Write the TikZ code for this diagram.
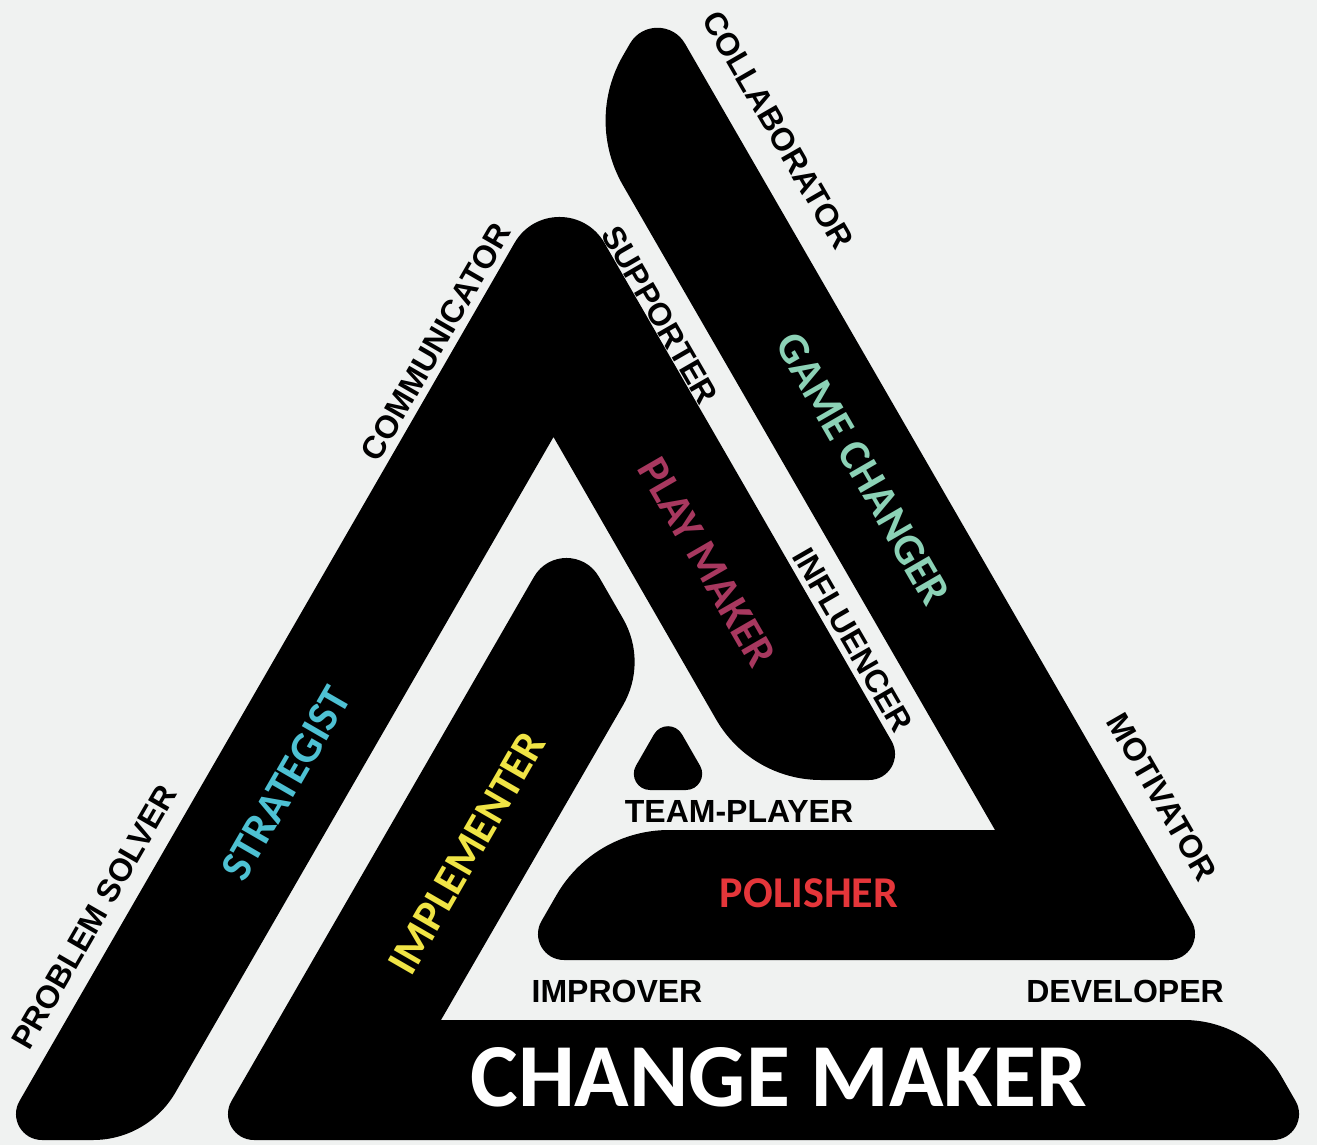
\documentclass[tikz,border=0pt]{standalone}
\usepackage{fontspec}
\newfontfamily\labfont{Liberation Sans}
\newfontfamily\rolefont{Carlito}
\usetikzlibrary{calc}
\definecolor{bg}{RGB}{240,242,241}
\definecolor{cstrat}{RGB}{78,193,211}
\definecolor{cimpl}{RGB}{240,228,69}
\definecolor{cplay}{RGB}{168,56,95}
\definecolor{cgame}{RGB}{140,210,182}
\definecolor{cpol}{RGB}{229,54,58}
% rounded corner at #2 between neighbours #1 and #3, cut #4, control #5
\newcommand\rc[5]{-- ($(#2)!#4pt!(#1)$) .. controls ($(#2)!#5pt!(#1)$) and ($(#2)!#5pt!(#3)$) .. ($(#2)!#4pt!(#3)$)}
\begin{document}
\begin{tikzpicture}[x=1pt,y=-1pt,
  lab/.style={font=\labfont\bfseries\fontsize{32}{38}\selectfont, inner sep=0pt, text=black},
  role/.style={font=\rolefont\bfseries\fontsize{44}{50}\selectfont, inner sep=0pt}]
\useasboundingbox (0,0) rectangle (1317,1145);
\fill[bg] (0,0) rectangle (1317,1145);
\clip (0,0) rectangle (1317,1145);
% Strategist / Play maker
\coordinate (S1) at (-3,1140);
\coordinate (S2) at (148,1140);
\coordinate (S3) at (553.5,437);
\coordinate (S4) at (751,780);
\coordinate (S5) at (914,780);
\coordinate (S6) at (559.5,165);
\fill[black] ($(S1)!0.5!(S2)$) \rc{S1}{S2}{S3}{55}{21} -- (S3) \rc{S3}{S4}{S5}{70}{26.6}
  \rc{S4}{S5}{S6}{45}{25} \rc{S5}{S6}{S1}{90}{50} \rc{S6}{S1}{S2}{45}{25} -- cycle;
% Game changer / Polisher
\coordinate (G1) at (657.5,-4);
\coordinate (G2) at (585.5,120.4);
\coordinate (G3) at (995,830);
\coordinate (G4) at (594,830);
\coordinate (G5) at (519,960);
\coordinate (G6) at (1214,960);
\fill[black] ($(G1)!0.5!(G6)$) \rc{G1}{G6}{G5}{45}{25} \rc{G6}{G5}{G4}{45}{25}
  \rc{G5}{G4}{G3}{75}{28.5} -- (G3) \rc{G3}{G2}{G1}{75}{28.5} \rc{G2}{G1}{G6}{55}{30.6} -- cycle;
% Implementer / Change maker
\coordinate (I1) at (566.5,520.5);
\coordinate (I2) at (648,662);
\coordinate (I3) at (441,1020);
\coordinate (I4) at (1249,1020);
\coordinate (I5) at (1318,1140);
\coordinate (I6) at (209,1140);
\fill[black] ($(I1)!0.5!(I2)$) \rc{I1}{I2}{I3}{50}{19} -- (I3) \rc{I3}{I4}{I5}{65}{24.7}
  \rc{I4}{I5}{I6}{45}{25} \rc{I5}{I6}{I1}{45}{25} \rc{I6}{I1}{I2}{65}{36} -- cycle;
% small triangle
\coordinate (T1) at (668,710);
\coordinate (T2) at (714,790);
\coordinate (T3) at (622,790);
\fill[black] ($(T1)!0.5!(T2)$) \rc{T1}{T2}{T3}{28}{15.6} \rc{T2}{T3}{T1}{28}{15.6}
  \rc{T3}{T1}{T2}{28}{15.6} -- cycle;
% outer labels
\node[lab, rotate=-60] (collab) at (778,130) {COLLABORATOR};
\node[lab, rotate=-60] (supp) at (660,315) {SUPPORTER};
\node[lab, rotate=60] (comm) at (436,342) {COMMUNICATOR};
\node[lab, rotate=-60] (infl) at (853,640) {INFLUENCER};
\node[lab, rotate=-60] (motiv) at (1162,797) {MOTIVATOR};
\node[lab, rotate=60] (probl) at (94,917) {PROBLEM SOLVER};
\node[lab] (team) at (739,811) {TEAM-PLAYER};
\node[lab] (impr) at (617,991) {IMPROVER};
\node[lab] (devel) at (1125,991) {DEVELOPER};
% role labels
\node[role, text=cstrat, rotate=60] (strat) at (286,783) {STRATEGIST};
\node[role, text=cimpl, rotate=60] (impl) at (467,853) {IMPLEMENTER};
\node[role, text=cplay, rotate=-60] (play) at (707,562) {PLAY MAKER};
\node[role, text=cgame, rotate=-60] (game) at (863,469) {GAME CHANGER};
\node[role, text=cpol] (polish) at (809,893) {POLISHER};
\node[role, text=white, font=\rolefont\bfseries\fontsize{90}{98}\selectfont] (change) at (779,1077) {CHANGE MAKER};
\end{tikzpicture}
\end{document}
